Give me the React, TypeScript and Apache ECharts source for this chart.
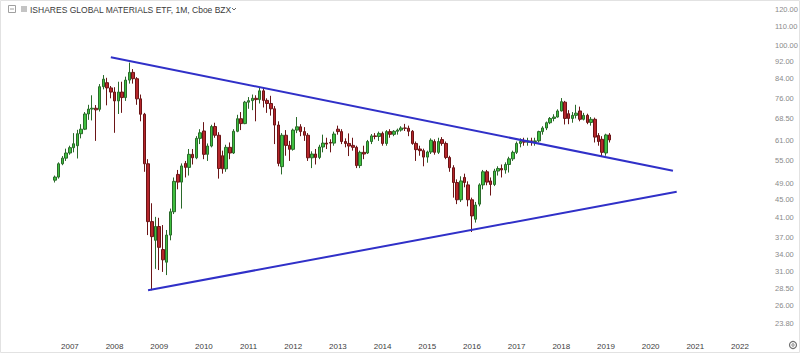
import React, { useEffect, useRef } from 'react';
import * as echarts from 'echarts';

const TITLE = 'ISHARES GLOBAL MATERIALS ETF, 1M, Cboe BZX';

// Monthly categories for the time axis (Jul 2005 .. Apr 2022)
const AXIS_START = [2005, 7];
const AXIS_MONTHS = 202;
const FIRST_BAR = '2006-09';
const FIRST_YEAR_LABEL = '2007';

const MONTHS: string[] = [];
for (let i = 0; i < AXIS_MONTHS; i++) {
  const t = AXIS_START[0] * 12 + (AXIS_START[1] - 1) + i;
  const y = Math.floor(t / 12);
  const m = (t % 12) + 1;
  MONTHS.push(`${y}-${m < 10 ? '0' + m : m}`);
}

// Monthly OHLC, Sep 2006 .. Feb 2019
const OPEN = [
  49.8, 50.6, 54.2, 55.8,
  57.3, 58.9, 59.5, 63.3, 64.8, 70.1, 71.9, 72.2, 71.8, 80.7, 82.4, 80.2,
  78.5, 75.0, 78.5, 76.3, 83.5, 86.9, 84.1, 75.8, 70.0, 54.2, 40.2, 36.5,
  39.2, 34.8, 32.6, 37.5, 42.3, 51.3, 49.3, 54.3, 53.2, 56.9, 55.9, 61.8,
  64.2, 56.9, 59.4, 65.7, 62.8, 56.5, 52.8, 59.0, 57.3, 64.1, 68.4, 66.7,
  74.5, 75.1, 76.0, 75.5, 79.0, 75.2, 74.0, 72.0, 66.2, 53.4, 62.8, 59.6,
  58.4, 64.5, 65.6, 64.0, 62.8, 55.9, 57.0, 56.0, 59.1, 60.3, 60.5, 60.3,
  64.8, 64.0, 60.8, 60.2, 59.6, 59.0, 53.7, 57.5, 57.3, 60.8, 62.6, 62.4,
  63.4, 60.2, 64.0, 63.1, 64.1, 64.5, 65.2, 65.1, 64.1, 60.2, 58.5, 58.0,
  56.1, 57.6, 60.8, 57.5, 61.4, 60.2, 56.0, 53.1, 49.2, 45.0, 50.5, 48.6,
  45.0, 40.7, 44.0, 48.6, 52.0, 49.6, 48.7, 52.2, 52.9, 52.5, 54.0, 55.6,
  57.5, 60.2, 60.8, 60.6, 61.0, 60.8, 61.0, 64.0, 65.2, 67.0, 68.5, 69.0,
  71.2, 74.5, 70.2, 68.5, 69.6, 71.2, 68.2, 69.6, 67.1, 68.2, 62.7, 61.5,
  57.3, 62.9,
];
const CLOSE = [
  50.6, 54.2, 55.8, 57.3,
  58.9, 60.1, 63.3, 64.8, 70.1, 71.9, 72.2, 71.6, 80.7, 83.9, 80.2, 78.5,
  75.0, 78.5, 76.3, 83.5, 86.9, 84.1, 75.8, 70.0, 54.2, 40.2, 37.2, 39.2,
  35.2, 33.0, 37.5, 42.3, 49.5, 49.3, 53.6, 53.2, 56.9, 55.9, 61.8, 63.6,
  56.9, 59.4, 65.7, 62.8, 52.9, 52.8, 59.0, 57.3, 64.1, 68.4, 66.7, 74.5,
  75.1, 76.0, 75.5, 79.0, 75.2, 74.0, 72.0, 66.2, 54.3, 62.8, 59.6, 58.4,
  64.5, 65.6, 64.0, 62.8, 55.9, 57.0, 56.0, 59.1, 60.3, 60.0, 60.3, 63.2,
  64.0, 60.8, 60.2, 59.4, 59.0, 53.7, 57.5, 57.0, 60.8, 62.6, 62.4, 63.4,
  60.2, 64.0, 63.1, 64.1, 64.5, 65.2, 65.1, 64.1, 60.2, 58.3, 58.0, 56.1,
  57.6, 61.2, 57.5, 60.8, 60.2, 56.0, 53.1, 49.2, 45.0, 49.6, 49.2, 45.0,
  41.4, 43.8, 48.6, 52.0, 49.3, 48.7, 52.2, 52.9, 52.5, 54.0, 55.6, 57.5,
  60.2, 60.8, 60.6, 61.0, 60.8, 61.0, 64.0, 65.2, 67.0, 68.5, 69.0, 71.2,
  74.7, 68.5, 68.5, 69.6, 70.4, 68.2, 69.6, 67.1, 68.2, 62.2, 60.8, 57.5,
  62.9, 61.3,
];
const LOW = [
  49.2, 50.2, 53.8, 55.0,
  56.8, 57.5, 55.7, 61.8, 64.5, 68.0, 67.8, 61.0, 71.0, 79.6, 73.3, 76.0,
  63.6, 70.1, 70.5, 75.0, 82.0, 82.0, 73.5, 67.5, 52.0, 37.5, 28.2, 31.5,
  31.3, 31.0, 30.5, 36.5, 41.8, 47.5, 43.0, 50.5, 51.0, 54.0, 55.5, 60.0,
  55.5, 55.0, 59.0, 62.0, 50.2, 51.5, 52.0, 55.5, 57.0, 63.8, 64.5, 66.5,
  72.0, 71.5, 67.5, 74.0, 72.5, 70.5, 69.5, 60.0, 53.5, 51.3, 56.5, 55.0,
  58.0, 63.5, 62.5, 61.0, 55.0, 53.0, 54.0, 55.5, 57.5, 58.5, 57.5, 59.5,
  63.0, 60.0, 59.0, 56.4, 58.0, 53.0, 53.0, 55.5, 57.0, 60.0, 61.5, 61.0,
  59.5, 59.5, 62.0, 62.5, 63.0, 64.0, 64.2, 62.5, 59.8, 55.0, 56.5, 53.5,
  54.5, 57.0, 56.8, 57.0, 59.5, 55.5, 52.0, 45.5, 44.0, 44.5, 48.0, 43.5,
  38.1, 40.0, 43.5, 47.5, 48.5, 46.0, 48.3, 51.0, 50.5, 51.5, 51.8, 55.0,
  57.0, 59.0, 59.5, 59.5, 59.5, 59.5, 60.5, 63.0, 64.5, 66.5, 67.5, 68.8,
  71.0, 66.4, 66.5, 67.0, 68.5, 67.5, 67.8, 66.5, 66.0, 60.5, 59.5, 56.2,
  56.5, 60.5,
];
const HIGH = [
  51.0, 54.6, 56.4, 58.6,
  59.5, 63.5, 64.6, 66.5, 70.8, 73.5, 77.2, 73.4, 81.8, 85.7, 84.5, 81.0,
  80.5, 82.8, 82.8, 85.0, 91.4, 88.4, 84.8, 77.5, 70.5, 55.5, 44.2, 41.2,
  41.0, 39.5, 38.5, 43.0, 50.5, 52.5, 54.3, 55.0, 58.5, 58.5, 62.5, 64.8,
  67.2, 60.2, 66.3, 67.0, 63.8, 58.0, 59.8, 60.5, 64.8, 69.8, 70.8, 75.0,
  76.5, 77.5, 77.2, 80.5, 80.2, 76.0, 77.0, 73.0, 67.5, 63.5, 64.5, 61.0,
  65.0, 69.0, 66.5, 65.5, 63.5, 57.8, 58.5, 59.8, 63.0, 62.0, 61.5, 64.0,
  66.0, 64.8, 61.8, 63.4, 62.0, 59.5, 58.0, 59.5, 61.3, 63.2, 63.5, 64.0,
  64.0, 64.5, 64.8, 64.5, 65.0, 65.8, 66.6, 66.0, 64.5, 60.8, 59.5, 58.6,
  58.0, 61.8, 61.5, 62.0, 62.2, 60.8, 56.5, 53.8, 50.0, 50.8, 51.5, 49.5,
  45.5, 44.5, 49.0, 52.5, 52.5, 50.5, 52.8, 53.5, 54.0, 54.6, 56.2, 58.0,
  60.8, 61.8, 62.0, 62.0, 62.0, 62.0, 64.3, 65.8, 67.4, 69.0, 70.0, 71.8,
  76.1, 75.0, 71.5, 70.8, 73.5, 72.8, 70.5, 70.2, 69.0, 68.8, 63.5, 62.5,
  63.3, 63.5,
];

// Trend lines (start / end points)
const UPPER_TREND: [string, number][] = [['2007-12', 94.0], ['2020-07', 52.3]];
const LOWER_TREND: [string, number][] = [['2008-10', 28.2], ['2020-08', 46.9]];

// Price-scale tick labels
const PRICE_TICKS = [120, 110, 100, 92, 84, 76, 68.5, 61, 55, 49, 45, 41, 37, 34, 31, 28.5, 26, 23.8];

const FONT = '"Liberation Sans", Arial, sans-serif';

export default function App() {
  const ref = useRef<HTMLDivElement>(null);
  useEffect(() => {
    if (!ref.current) return;
    const chart = echarts.init(ref.current, undefined, { renderer: 'svg' });
    const startIdx = MONTHS.indexOf(FIRST_BAR);
    const candles: any[] = MONTHS.map(() => ['-', '-', '-', '-']);
    for (let i = 0; i < OPEN.length; i++) {
      candles[startIdx + i] = [OPEN[i], CLOSE[i], LOW[i], HIGH[i]];
    }
    chart.setOption({
      animation: false,
      backgroundColor: '#ffffff',
      textStyle: { fontFamily: FONT },
      grid: { left: 1, width: 752, top: 0, height: 335, outerBoundsMode: 'none', containLabel: false },
      xAxis: {
        type: 'category',
        data: MONTHS,
        boundaryGap: true,
        axisLine: { show: false },
        axisTick: { show: false },
        splitLine: { show: false },
        axisLabel: {
          interval: (_i: number, v: string) => v.endsWith('-01') && v.slice(0, 4) >= FIRST_YEAR_LABEL,
          formatter: (v: string) => v.slice(0, 4),
          fontSize: 8,
          color: '#404040',
          margin: 7,
          fontFamily: FONT,
        },
      },
      yAxis: {
        type: 'log',
        position: 'right',
        min: 22.38,
        max: 126.3,
        axisLine: { show: false },
        axisTick: { show: false },
        splitLine: { show: false },
        axisLabel: {
          customValues: PRICE_TICKS,
          formatter: (v: number) => v.toFixed(2),
          fontSize: 7.5,
          color: '#8a8a8a',
          margin: 22,
          align: 'left',
          fontFamily: FONT,
        },
      },
      series: [
        {
          type: 'candlestick',
          data: candles,
          barWidth: 3,
          itemStyle: {
            color: '#3fbf3f',
            color0: '#b5262b',
            borderColor: '#2a6a2a',
            borderColor0: '#6b1416',
            borderWidth: 1,
          },
          silent: true,
        },
        {
          type: 'line',
          data: UPPER_TREND,
          symbol: 'none',
          lineStyle: { color: '#3030c8', width: 2 },
          silent: true,
          z: 5,
        },
        {
          type: 'line',
          data: LOWER_TREND,
          symbol: 'none',
          lineStyle: { color: '#3030c8', width: 2 },
          silent: true,
          z: 5,
        },
      ],
      graphic: [
        {
          type: 'rect',
          shape: { x: 0.5, y: 0.5, width: 799, height: 352 },
          style: { fill: 'none', stroke: '#e2e2e2', lineWidth: 1 },
          silent: true,
          z: -1,
        },
        {
          type: 'rect',
          shape: { x: 8.5, y: 5.5, width: 7, height: 7 },
          style: { fill: 'none', stroke: '#a0a0a0', lineWidth: 1 },
          silent: true,
        },
        {
          type: 'line',
          shape: { x1: 10, y1: 9, x2: 14, y2: 9 },
          style: { stroke: '#a0a0a0', lineWidth: 1 },
          silent: true,
        },
        {
          type: 'rect',
          shape: { x: 21, y: 6, width: 6, height: 6 },
          style: { fill: '#c4c4c4' },
          silent: true,
        },
        {
          type: 'text',
          x: 30,
          y: 9.5,
          style: {
            text: TITLE,
            fontSize: 8.5,
            fill: '#3a3a3a',
            fontFamily: FONT,
            verticalAlign: 'middle',
            align: 'left',
          },
          silent: true,
        },
        {
          type: 'polyline',
          shape: { points: [[232, 8], [234, 10], [236, 8]] },
          style: { stroke: '#666', lineWidth: 1, fill: 'none' },
          silent: true,
        },
        {
          type: 'circle',
          shape: { cx: 793, cy: 345, r: 3.5 },
          style: { fill: 'none', stroke: '#707070', lineWidth: 1.2 },
          silent: true,
        },
        {
          type: 'circle',
          shape: { cx: 793, cy: 345, r: 1.2 },
          style: { fill: 'none', stroke: '#707070', lineWidth: 1 },
          silent: true,
        },
      ],
    });
    return () => chart.dispose();
  }, []);
  return (
    <div
      ref={ref}
      style={{ position: 'absolute', left: 0, top: 0, width: 800, height: 353, background: '#fff' }}
    />
  );
}
